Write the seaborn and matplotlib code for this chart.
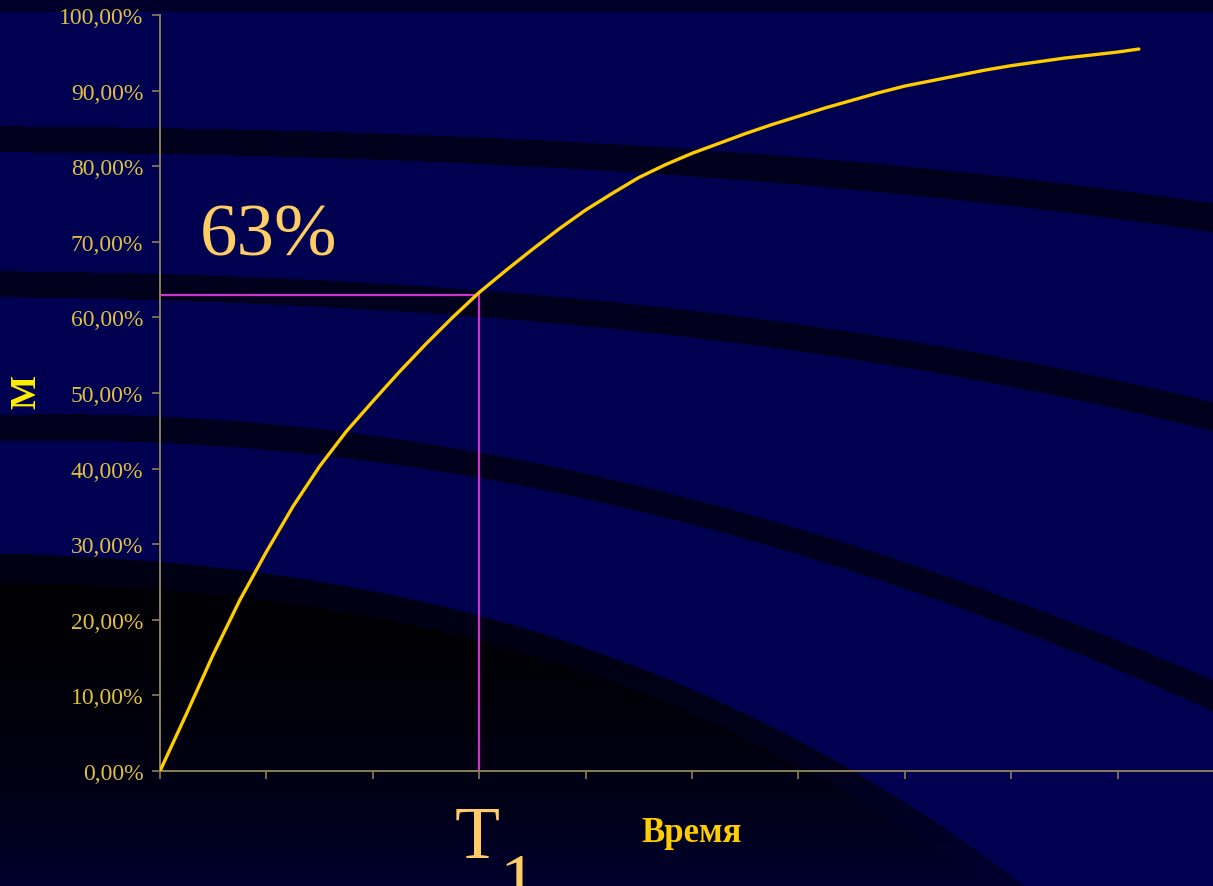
import numpy as np
import pandas as pd
import matplotlib
matplotlib.use("Agg")
import matplotlib.pyplot as plt
import seaborn as sns

# ---------------- data ----------------
time_units = [0, 0.25, 0.5, 0.75, 1, 1.25, 1.5, 1.75, 2, 2.25, 2.5, 2.75, 3, 3.25, 3.5, 3.75,
              4, 4.25, 4.5, 4.75, 5, 5.25, 5.5, 5.75, 6, 6.25, 6.5, 6.75, 7, 7.25, 7.5, 7.75,
              8, 8.25, 8.5, 8.75, 9, 9.2]
m_percent = [0, 7.6, 15.4, 22.6, 29.0, 35.0, 40.3, 44.9, 48.9, 52.8, 56.5, 60.0, 63.3, 66.2,
             69.0, 71.7, 74.2, 76.4, 78.5, 80.2, 81.7, 83.0, 84.3, 85.5, 86.6, 87.7, 88.7,
             89.7, 90.6, 91.3, 92.0, 92.7, 93.3, 93.8, 94.3, 94.7, 95.1, 95.5]
y_ticks = [0, 10, 20, 30, 40, 50, 60, 70, 80, 90, 100]
y_tick_labels = ["0,00%", "10,00%", "20,00%", "30,00%", "40,00%", "50,00%",
                 "60,00%", "70,00%", "80,00%", "90,00%", "100,00%"]
x_ticks = list(range(11))
t1_value = 3
level_value = 63
level_label = "63%"
x_label = "Время"
y_label = "M"

# ---------------- style ----------------
sns.set_style("dark")
plt.rcParams['font.family'] = ['Liberation Serif', 'DejaVu Serif']

W, H = 1213, 887
fig = plt.figure(figsize=(W / 100, H / 100), dpi=100)

# ---------------- background (slide template decoration) ----------------
yy, xx = np.mgrid[0:H, 0:W]
img = np.zeros((H, W, 3))
img[..., 2] = 80 / 255
img[yy < 13] = (0, 0, 42 / 255)
xcol = np.arange(W)


def smooth_curve(xs, ys, deg=3):
    coef = np.polyfit(xs, ys, deg)
    return np.polyval(coef, xcol)[None, :]


def band(xs, top, bot, color):
    t = smooth_curve(xs, top)
    b = smooth_curve(xs, bot)
    mask = (yy >= t) & (yy <= b)
    img[mask] = color


band_col = (0, 0, 28 / 255)
band([0, 300, 600, 900, 1213], [127, 131, 145, 166, 204], [153, 157, 172, 194, 233], band_col)
band([0, 150, 550, 900, 1213], [272, 274, 297, 340, 403], [298, 300, 324, 367, 432], band_col)
band([0, 150, 500, 600, 900, 1213], [416, 416, 457, 478, 561, 681], [442, 443, 483, 502, 588, 712], band_col)

outer = smooth_curve([0, 150, 255, 480, 600, 696, 851, 1021, 1213],
                     [553, 562, 575, 618, 650, 690, 772, 887, 1050])
inner = smooth_curve([0, 150, 250, 480, 600, 696, 850, 982, 1213],
                     [583, 588, 600, 645, 676, 713, 790, 887, 1080])
f = np.clip((yy - 600) / (887 - 600), 0, 1) ** 2
outer_mask = (yy >= outer) & (yy < inner)
inner_mask = yy >= inner
blue_outer = (20 + 28 * f) / 255
blue_inner = (5 + 40 * f) / 255
img[..., 2] = np.where(outer_mask, blue_outer, img[..., 2])
img[..., 2] = np.where(inner_mask, blue_inner, img[..., 2])
img[..., 0] = np.where(outer_mask | inner_mask, 0, img[..., 0])
img[..., 1] = np.where(outer_mask | inner_mask, 0, img[..., 1])

bg = fig.add_axes([0, 0, 1, 1], zorder=0)
bg.imshow(img, aspect='auto', interpolation='antialiased', extent=(0, W, H, 0))
bg.set_xlim(0, W)
bg.set_ylim(H, 0)
bg.axis('off')

# ---------------- main chart ----------------
ax = fig.add_axes([160 / W, (H - 772) / H, 1064 / W, (772 - 16) / H], zorder=1)
ax.patch.set_alpha(0)

df = pd.DataFrame({"t": time_units, "m": m_percent})
sns.lineplot(data=df, x="t", y="m", ax=ax, color="#FFCC00", lw=2.4, zorder=3)

ref_color = "#CC33CC"
ax.plot([0, t1_value], [level_value, level_value], color=ref_color, lw=1.6, zorder=2)
ax.plot([t1_value, t1_value], [0, level_value], color=ref_color, lw=1.6, zorder=2)

ax.set_xlim(0, 10)
ax.set_ylim(0, 100)
ax.set_xticks(x_ticks)
ax.set_xticklabels([""] * len(x_ticks))
ax.set_yticks(y_ticks)
ax.set_yticklabels(y_tick_labels, fontsize=17, color="#E0C040")
ax.set_xlabel("")
ax.set_ylabel("")
ax.grid(False)

spine_color = "#8C7E57"
for s in ["top", "right"]:
    ax.spines[s].set_visible(False)
for s in ["left", "bottom"]:
    ax.spines[s].set_visible(True)
    ax.spines[s].set_color(spine_color)
    ax.spines[s].set_linewidth(1.4)
ax.tick_params(axis='both', which='major', bottom=True, left=True, direction='out',
               length=6, width=1.2, color=spine_color, labelcolor="#E0C040", pad=6)

# ---------------- texts ----------------
fig.text(200 / W, 1 - 256 / H, level_label, fontsize=54, color="#FFCC66",
         ha="left", va="baseline", zorder=5)
fig.text(455 / W, 1 - 858 / H, "T", fontsize=53, color="#FFCC66",
         ha="left", va="baseline", zorder=5)
fig.text(500 / W, 1 - 905 / H, "1", fontsize=53, color="#FFCC66",
         ha="left", va="baseline", zorder=5)
fig.text(692 / W, 1 - 842 / H, x_label, fontsize=25, fontweight="bold", color="#FFCC00",
         ha="center", va="baseline", zorder=5)
fig.text(27 / W, 1 - 392 / H, y_label, fontsize=26, fontweight="bold", color="#FFEE00",
         ha="center", va="center", rotation=90, zorder=5)

fig.savefig("out.png", dpi=100)
